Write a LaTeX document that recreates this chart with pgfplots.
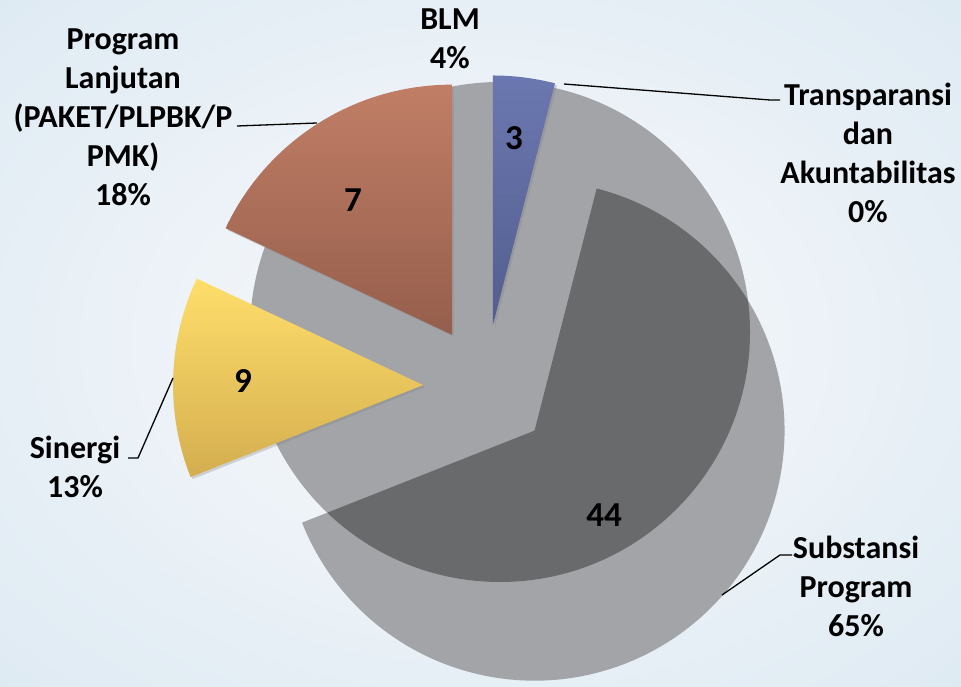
\documentclass[border=0pt]{standalone}
\usepackage{fontspec}
\setmainfont{Carlito}
\usepackage{pgfplots}
\pgfplotsset{compat=1.18}
\usetikzlibrary{shadows}
\definecolor{bgA}{HTML}{F5F7FA}
\definecolor{bgB}{HTML}{EEF3F8}
\definecolor{bgC}{HTML}{D3E4EF}
\definecolor{bgD}{HTML}{B5D2E4}
\definecolor{blmT}{HTML}{6B77B0}
\definecolor{blmB}{HTML}{535E8E}
\definecolor{brnT}{HTML}{C17E66}
\definecolor{brnB}{HTML}{955E4C}
\definecolor{ylwT}{HTML}{FFDE6B}
\definecolor{ylwB}{HTML}{D4AE4F}
\definecolor{gryL}{HTML}{A2A4A7}
\definecolor{gryD}{HTML}{696A6C}
\pgfdeclareradialshading{bgshade}{\pgfpoint{0bp}{0bp}}{color(0bp)=(bgA); color(15bp)=(bgB); color(50bp)=(bgC); color(71bp)=(bgD)}
% #1 cumulative percent before slice, #2 percent, #3 explode distance, #4 top colour, #5 bottom colour
\newcommand\pieslice[5]{%
  \shade[top color=#4, bottom color=#5,
         drop shadow={shadow xshift=2pt, shadow yshift=-2pt, opacity=0.3}]
    (axis cs:{485+#3*cos(90-3.6*(#1+#2/2))},{299+#3*sin(90-3.6*(#1+#2/2))})
    -- ++({90-3.6*#1}:250pt)
    arc[start angle={90-3.6*#1}, end angle={90-3.6*(#1+#2)}, radius=250pt] -- cycle;
}
\newcommand\lab{\fontsize{32}{39}\selectfont\bfseries}
\newcommand\num{\fontsize{35}{40}\selectfont\bfseries}
\begin{document}
\begin{tikzpicture}
\begin{axis}[name=ax, x=1pt, y=1pt, xmin=0, xmax=961, ymin=0, ymax=686,
  hide axis, scale only axis, clip=false]
  % background
  \shade[shading=bgshade] (axis cs:0,0) rectangle (axis cs:961,686);
  \begin{scope}
  \clip (axis cs:0,0) rectangle (axis cs:961,686);
  % soft grey backdrop disk
  \fill[gryL] (axis cs:500,354) circle[radius=250pt];
  % Substansi Program slice (65%, starts after BLM 4% and Transparansi 0%)
  \fill[gryL] (axis cs:{485+66*cos(90-3.6*(4+65/2))},{299+66*sin(90-3.6*(4+65/2))})
    -- ++({90-3.6*4}:250pt)
    arc[start angle={90-3.6*4}, end angle={90-3.6*(4+65)}, radius=250pt] -- cycle;
  \end{scope}
  \begin{scope}
    \clip (axis cs:500,354) circle[radius=250pt];
    \fill[gryD] (axis cs:{485+66*cos(90-3.6*(4+65/2))},{299+66*sin(90-3.6*(4+65/2))})
      -- ++({90-3.6*4}:250pt)
      arc[start angle={90-3.6*4}, end angle={90-3.6*(4+65)}, radius=250pt] -- cycle;
  \end{scope}
  % BLM 4%
  \pieslice{0}{4}{62}{blmT}{blmB}
  % Sinergi 13%
  \pieslice{69}{13}{62}{ylwT}{ylwB}
  % Program Lanjutan 18%
  \pieslice{82}{18}{62}{brnT}{brnB}
  % values inside slices
  \node[font=\num] at (axis cs:514,548) {3};
  \node[font=\num] at (axis cs:353,486) {7};
  \node[font=\num] at (axis cs:243,305) {9};
  \node[font=\num] at (axis cs:604,171) {44};
  % leader lines
  \draw[line width=1.3pt] (axis cs:237,560) -- (axis cs:317,563);
  \draw[line width=1.3pt] (axis cs:564,602) -- (axis cs:770,586) -- (axis cs:780,586);
  \draw[line width=1.3pt] (axis cs:173,308) -- (axis cs:138,228) -- (axis cs:128,228);
  \draw[line width=1.3pt] (axis cs:722,91) -- (axis cs:780,131) -- (axis cs:792,131);
  % category labels
  \node[font=\lab, align=center] at (axis cs:450,647) {BLM\\4\%};
  \node[font=\lab, align=center] at (axis cs:123,569) {Program\\Lanjutan\\(PAKET/PLPBK/P\\PMK)\\18\%};
  \node[font=\lab, align=center] at (axis cs:868,533) {Transparansi\\dan\\Akuntabilitas\\0\%};
  \node[font=\lab, align=center] at (axis cs:75,219) {Sinergi\\13\%};
  \node[font=\lab, align=center] at (axis cs:856,100) {Substansi\\Program\\65\%};
\end{axis}
\pgfresetboundingbox
\useasboundingbox (ax.south west) rectangle (ax.north east);
\end{tikzpicture}
\end{document}
